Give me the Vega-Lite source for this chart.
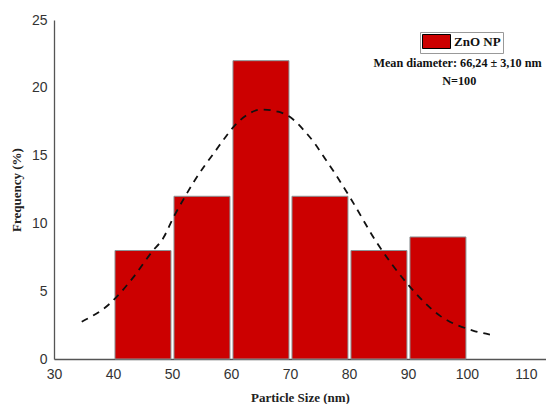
{
  "$schema": "https://vega.github.io/schema/vega-lite/v6.json",
  "autosize": {"type": "none"},
  "width": 492,
  "height": 339,
  "padding": {"left": 54, "top": 20, "right": 0, "bottom": 45},
  "background": "white",
  "config": {
    "view": {"stroke": null},
    "axis": {
      "grid": false,
      "domainColor": "#555555",
      "domainWidth": 1.3,
      "ticks": false,
      "labelFlush": false,
      "labelFont": "Liberation Sans",
      "labelFontSize": 14,
      "labelColor": "#333333",
      "titleFont": "Liberation Serif",
      "titleFontWeight": "bold",
      "titleFontSize": 13,
      "titleColor": "#222222"
    }
  },
  "datasets": {
    "bars": [
      {"start": 40, "end": 50, "freq": 8, "series": "ZnO NP"},
      {"start": 50, "end": 60, "freq": 12, "series": "ZnO NP"},
      {"start": 60, "end": 70, "freq": 22, "series": "ZnO NP"},
      {"start": 70, "end": 80, "freq": 12, "series": "ZnO NP"},
      {"start": 80, "end": 90, "freq": 8, "series": "ZnO NP"},
      {"start": 90, "end": 100, "freq": 9, "series": "ZnO NP"}
    ],
    "curve": [
      {"size": 34.7, "freq": 2.75},
      {"size": 39.5, "freq": 4.1},
      {"size": 43.4, "freq": 6.0},
      {"size": 46.6, "freq": 7.9},
      {"size": 48.5, "freq": 8.9},
      {"size": 50.2, "freq": 10.4},
      {"size": 52.2, "freq": 11.97},
      {"size": 53.9, "freq": 13.2},
      {"size": 55.6, "freq": 14.3},
      {"size": 57.3, "freq": 15.3},
      {"size": 58.7, "freq": 16.15},
      {"size": 60.4, "freq": 17.1},
      {"size": 62.7, "freq": 18.0},
      {"size": 65.2, "freq": 18.4},
      {"size": 68.0, "freq": 18.24},
      {"size": 70.3, "freq": 17.75},
      {"size": 72.5, "freq": 16.8},
      {"size": 74.2, "freq": 15.9},
      {"size": 75.9, "freq": 14.8},
      {"size": 77.6, "freq": 13.7},
      {"size": 80.2, "freq": 11.9},
      {"size": 84.7, "freq": 8.6},
      {"size": 89.8, "freq": 5.6},
      {"size": 95.4, "freq": 3.2},
      {"size": 101.0, "freq": 2.1},
      {"size": 103.9, "freq": 1.8}
    ],
    "notes": [
      {"label": "Mean diameter: 66,24 ± 3,10 nm", "line": 1},
      {"label": "N=100", "line": 2}
    ]
  },
  "layer": [
    {
      "data": {"name": "bars"},
      "mark": {"type": "bar", "binSpacing": 3, "stroke": "#8a9597", "strokeWidth": 1},
      "encoding": {
        "x": {
          "field": "start", "type": "quantitative", "bin": "binned",
          "scale": {"domain": [30, 113.4], "nice": false, "zero": false},
          "axis": {"values": [30, 40, 50, 60, 70, 80, 90, 100, 110], "title": "Particle Size (nm)", "labelPadding": 8, "titlePadding": 10}
        },
        "x2": {"field": "end"},
        "y": {
          "field": "freq", "type": "quantitative",
          "scale": {"domain": [0, 25], "nice": false},
          "axis": {"values": [0, 5, 10, 15, 20, 25], "title": "Frequency (%)", "labelPadding": 7, "titlePadding": 8}
        },
        "fill": {
          "field": "series", "type": "nominal",
          "scale": {"range": ["#cc0000"]},
          "legend": {
            "title": null,
            "orient": "none",
            "legendX": 366,
            "legendY": 12,
            "strokeColor": "#999999",
            "padding": 2,
            "symbolType": "M-1,-1H3V1H-1Z",
            "symbolSize": 196,
            "symbolStrokeColor": "#000000",
            "symbolStrokeWidth": 1,
            "symbolOpacity": 1,
            "labelFont": "Liberation Serif",
            "labelFontWeight": "bold",
            "labelFontSize": 13,
            "labelColor": "#111111",
            "labelOffset": 17
          }
        }
      }
    },
    {
      "data": {"name": "curve"},
      "mark": {"type": "line", "color": "#111111", "strokeWidth": 1.8, "strokeDash": [7, 6], "interpolate": "monotone"},
      "encoding": {
        "x": {"field": "size", "type": "quantitative"},
        "y": {"field": "freq", "type": "quantitative"}
      }
    },
    {
      "mark": {"type": "rule", "color": "#555555", "strokeWidth": 1.3},
      "encoding": {"y": {"datum": 25, "type": "quantitative"}}
    },
    {
      "data": {"name": "notes"},
      "transform": [{"filter": "datum.line == 1"}],
      "mark": {"type": "text", "font": "Liberation Serif", "fontWeight": "bold", "fontSize": 12.2, "color": "#111111"},
      "encoding": {
        "x": {"datum": 98.4, "type": "quantitative"},
        "y": {"datum": 21.8, "type": "quantitative"},
        "text": {"field": "label"}
      }
    },
    {
      "data": {"name": "notes"},
      "transform": [{"filter": "datum.line == 2"}],
      "mark": {"type": "text", "font": "Liberation Serif", "fontWeight": "bold", "fontSize": 12.2, "color": "#111111"},
      "encoding": {
        "x": {"datum": 98.7, "type": "quantitative"},
        "y": {"datum": 20.5, "type": "quantitative"},
        "text": {"field": "label"}
      }
    }
  ]
}
